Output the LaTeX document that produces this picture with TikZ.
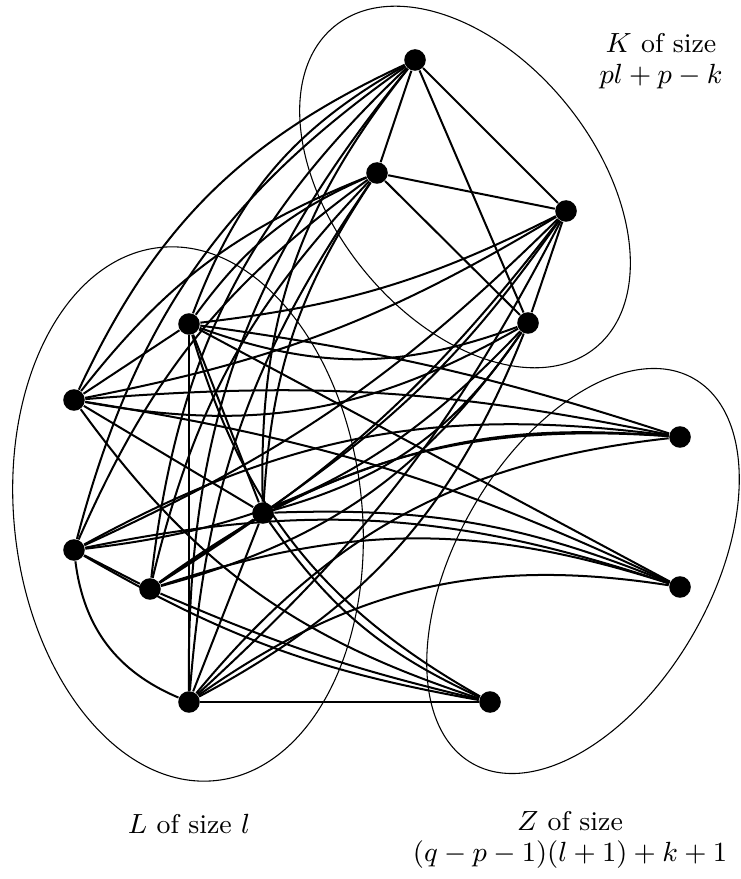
\documentclass[tikz,border=0pt]{standalone}
\usetikzlibrary{calc}
\begin{document}
\begin{tikzpicture}[x=0.0114cm, y=0.0114cm,
    vertex/.style={circle, fill=black, inner sep=0pt, minimum size=7pt},
    edge/.style={line width=0.65pt},
    part/.style={line width=0.35pt},
    tag/.style={inner sep=0pt, align=center, font=\fontsize{8.8pt}{10pt}\selectfont}]
    % Fix the picture size
    \useasboundingbox (0,0) rectangle (740,-879);

    % Draw the three parts
    \draw[part, rotate around={-51:(465,-187)}] (465,-187) ellipse (207 and 131);
    \draw[part, rotate around={6:(188,-514)}] (188,-514) ellipse (174 and 268);
    \draw[part, rotate around={60:(583,-571)}] (583,-571) ellipse (222 and 127);

    % Vertices of K
    \node[vertex] (k1) at (415,-60) {};
    \node[vertex] (k2) at (377,-173) {};
    \node[vertex] (k3) at (566,-211) {};
    \node[vertex] (k4) at (528,-323) {};

    % Vertices of L
    \node[vertex] (l1) at (189,-324) {};
    \node[vertex] (l2) at (74,-400) {};
    \node[vertex] (l3) at (263,-513) {};
    \node[vertex] (l4) at (74,-550) {};
    \node[vertex] (l5) at (150,-589) {};
    \node[vertex] (l6) at (189,-702) {};

    % Vertices of Z
    \node[vertex] (z1) at (680,-437) {};
    \node[vertex] (z2) at (680,-587) {};
    \node[vertex] (z3) at (490,-702) {};

    % K is a clique
    \foreach \a/\b in {k1/k2, k1/k3, k1/k4, k2/k3, k2/k4, k3/k4}
        \draw[edge] (\a) -- (\b);

    % Edges inside L
    \foreach \a/\b/\c in {l1/l2/0, l1/l3/0, l1/l6/0, l2/l3/0, l4/l5/0, l4/l6/-30, l3/l5/0, l3/l6/0}
        \draw[edge] (\a) to[bend left=\c] (\b);

    % Every vertex of L sees K
    \foreach \i in {1,...,6} {
        \draw[edge] (l\i) to[bend left=20] (k1);
        \draw[edge] (l\i) to[bend left=15] (k2);
        \draw[edge] (l\i) to[bend right=10] (k3);
        \draw[edge] (l\i) to[bend right=20] (k4);
    }

    % ... and Z
    \foreach \a/\c/\d/\e in {l1/5/0/-22, l2/8/8/-18, l3/15/12/-15, l4/18/15/-10, l5/20/18/-5, l6/22/22/0} {
        \draw[edge] (\a) to[bend left=\c] (z1);
        \draw[edge] (\a) to[bend left=\d] (z2);
        \draw[edge] (\a) to[bend left=\e] (z3);
    }

    % Labels of the parts
    \node[tag] (klabel) at (661,-61) {$K$ of size\\$pl+p-k$};
    \node[tag] (llabel) at (189,-824) {$L$ of size $l$};
    \node[tag] (zlabel) at (570,-840) {$Z$ of size\\$(q-p-1)(l+1)+k+1$};
\end{tikzpicture}
\end{document}
